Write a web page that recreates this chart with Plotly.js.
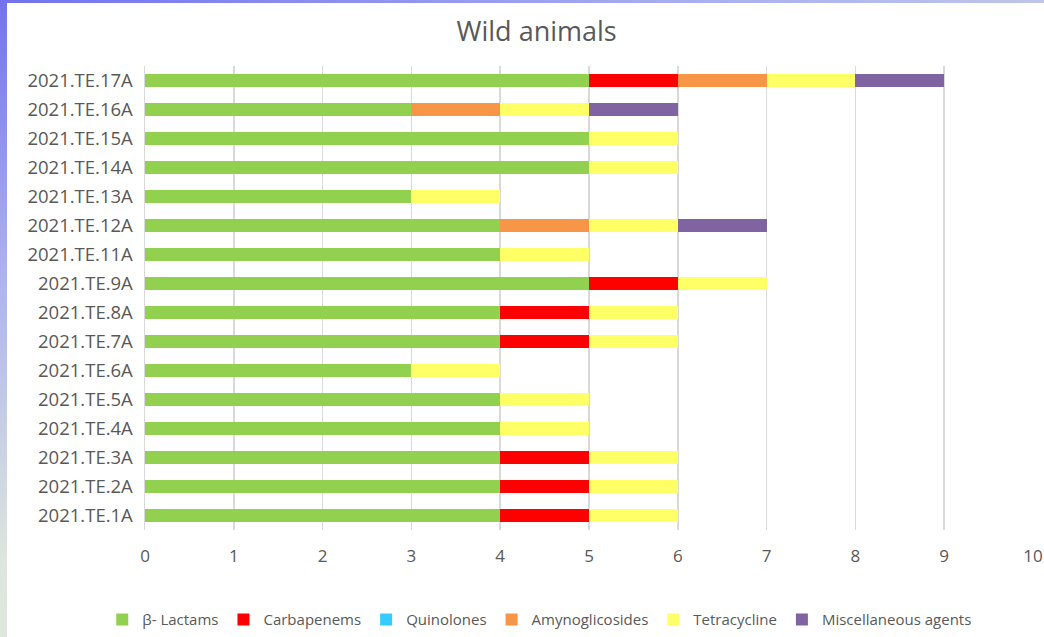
<!DOCTYPE html>
<html>
<head>
<meta charset="utf-8">
<script src="https://cdn.plot.ly/plotly-3.0.1.min.js"></script>
<style>
  html, body { margin:0; padding:0; width:1044px; height:637px; overflow:hidden; }
  body { background: linear-gradient(160deg, #7272ee 0%, #a9aef0 25%, #dde6dc 55%, #e7eee0 100%); position:relative; }
  #bg { position:absolute; left:7px; top:3px; right:0; bottom:0; background:#ffffff; }
  #chart { position:absolute; left:0; top:0; width:1044px; height:637px; }
</style>
</head>
<body>
<div id="bg"></div>
<div id="chart"></div>
<script>
// Categories listed bottom to top
const categories = ["2021.TE.1A","2021.TE.2A","2021.TE.3A","2021.TE.4A","2021.TE.5A","2021.TE.6A","2021.TE.7A","2021.TE.8A","2021.TE.9A","2021.TE.11A","2021.TE.12A","2021.TE.13A","2021.TE.14A","2021.TE.15A","2021.TE.16A","2021.TE.17A"];
const betaLactams     = [4,4,4,4,4,3,4,4,5,4,4,3,5,5,3,5];
const carbapenems     = [1,1,1,0,0,0,1,1,1,0,0,0,0,0,0,1];
const quinolones      = [0,0,0,0,0,0,0,0,0,0,0,0,0,0,0,0];
const amynoglicosides = [0,0,0,0,0,0,0,0,0,0,1,0,0,0,1,1];
const tetracycline    = [1,1,1,1,1,1,1,1,1,1,1,1,1,1,1,1];
const miscellaneous   = [0,0,0,0,0,0,0,0,0,0,1,0,0,0,1,1];
const xTicks = [0,1,2,3,4,5,6,7,8,9,10];

const seriesDefs = [
  {name:"β- Lactams", data:betaLactams, color:"#92D050"},
  {name:"Carbapenems", data:carbapenems, color:"#FF0000"},
  {name:"Quinolones", data:quinolones, color:"#33CCFF"},
  {name:"Amynoglicosides", data:amynoglicosides, color:"#F79646"},
  {name:"Tetracycline", data:tetracycline, color:"#FFFF66"},
  {name:"Miscellaneous agents", data:miscellaneous, color:"#8064A2"}
];

const traces = seriesDefs.map(s => ({
  type:"bar",
  orientation:"h",
  name:s.name,
  y:categories,
  x:s.data,
  marker:{color:s.color, line:{width:0}},
  hoverinfo:"x+y+name"
}));

const font = "'Open Sans', 'DejaVu Sans', sans-serif";
const layout = {
  width:1044, height:637,
  paper_bgcolor:"rgba(0,0,0,0)",
  plot_bgcolor:"rgba(0,0,0,0)",
  barmode:"stack",
  bargap:0.55,
  margin:{l:145, r:11, t:66, b:107},
  title:{text:"Wild animals", font:{family:font, size:27, color:"#595959"}, x:0.514, xref:"container", xanchor:"center", y:0.95, yref:"container", yanchor:"middle"},
  xaxis:{
    range:[0,10], tickvals:xTicks, ticktext:xTicks.map(String),
    showgrid:true, gridcolor:"#D9D9D9", gridwidth:1.5,
    zeroline:false, showline:false, ticks:"",
    tickfont:{family:font, size:17, color:"#595959"},
    ticklabelstandoff:14, fixedrange:true
  },
  yaxis:{
    type:"category", categoryorder:"array", categoryarray:categories,
    showgrid:false, zeroline:false,
    showline:true, linecolor:"#D9D9D9", linewidth:1.5,
    ticks:"", tickfont:{family:font, size:18.5, color:"#595959"},
    ticklabelstandoff:7, fixedrange:true
  },
  showlegend:true,
  legend:{orientation:"h", x:0.517, xref:"container", xanchor:"center", y:0.027, yref:"container", yanchor:"middle",
    font:{family:font, size:15, color:"#595959"}, traceorder:"normal", itemwidth:30, bgcolor:"rgba(0,0,0,0)"}
};

Plotly.newPlot("chart", traces, layout, {displayModeBar:false, staticPlot:true});
</script>
</body>
</html>
